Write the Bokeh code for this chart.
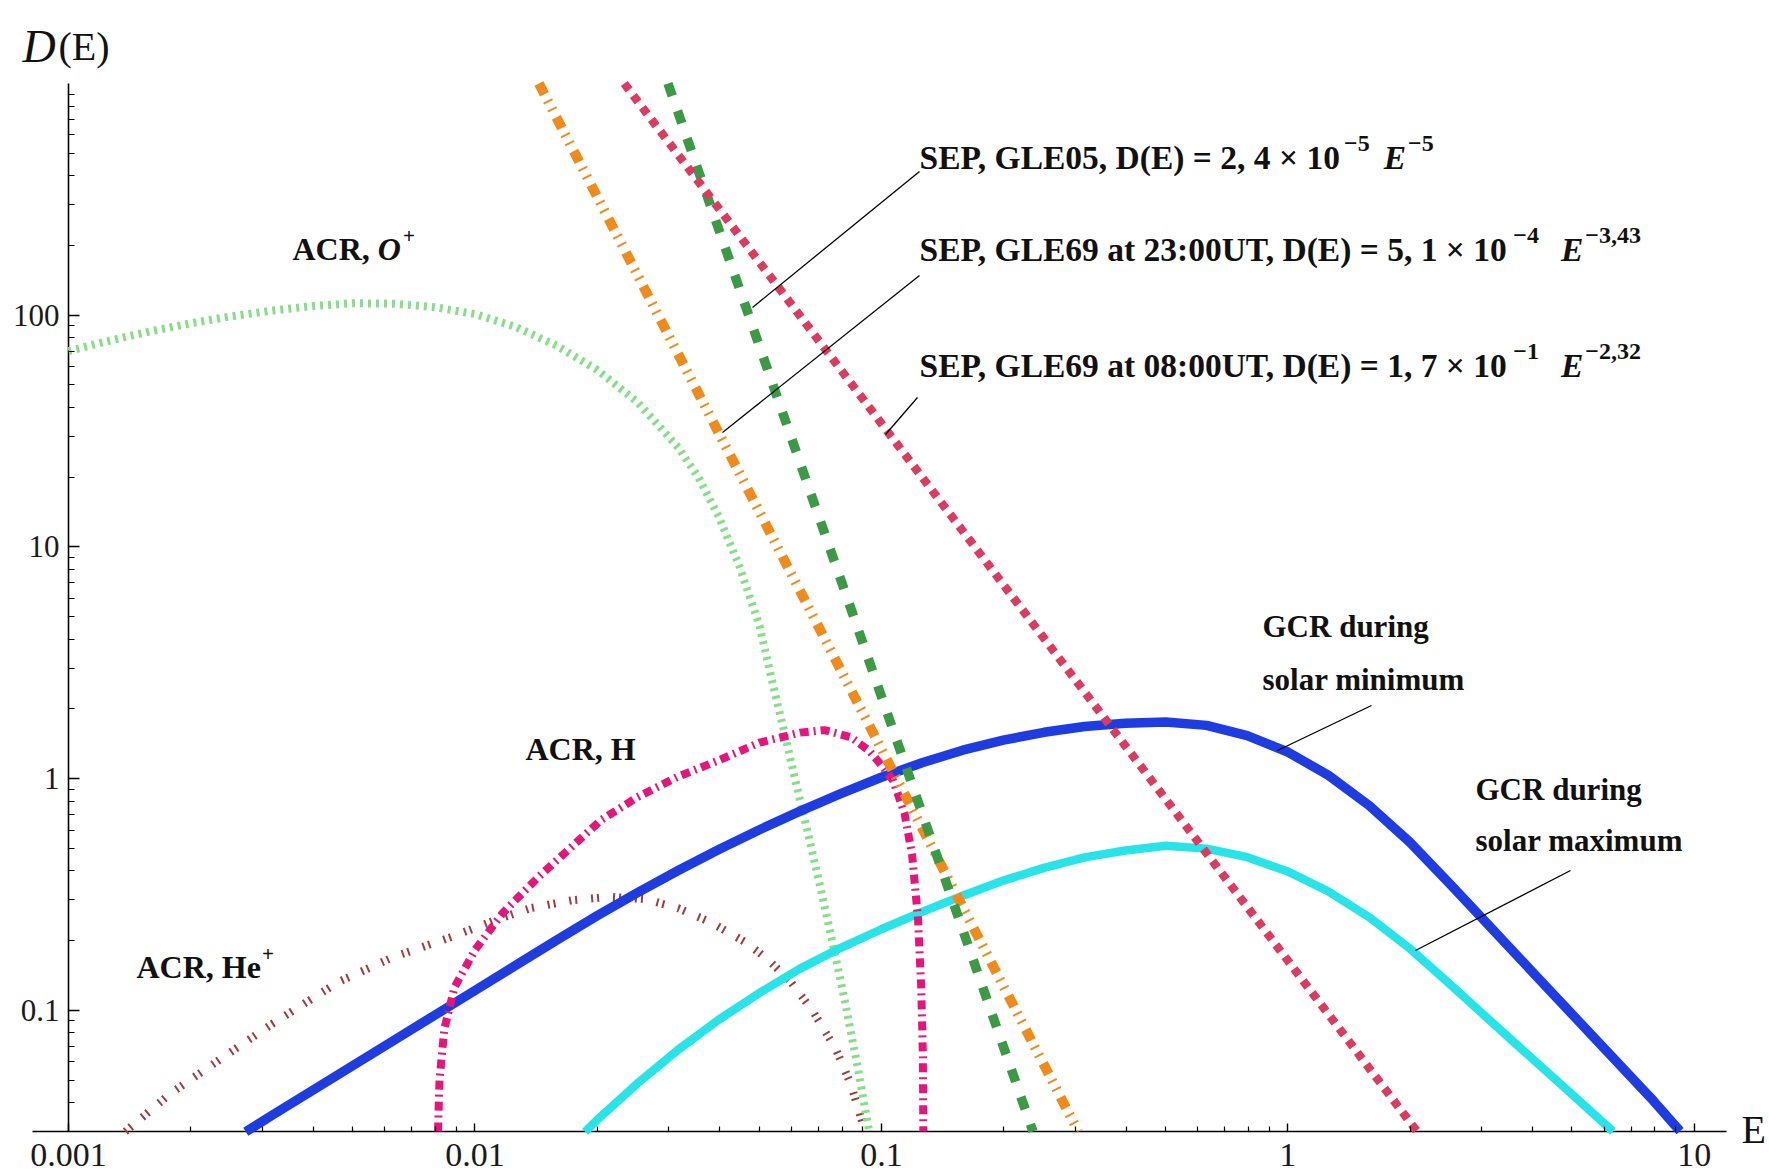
import math
from bokeh.plotting import figure
from bokeh.models import Range1d, FixedTicker, CustomJSTickFormatter, Label
from bokeh.embed import file_html
from bokeh.resources import INLINE

# ---------------- data ----------------
# GCR during solar minimum (solid blue)
gcr_min_E = [0.00273, 0.003162, 0.003981, 0.005012, 0.00631, 0.007943, 0.01, 0.01259, 0.01585,
             0.01995, 0.02512, 0.03162, 0.03981, 0.05012, 0.0631, 0.07943, 0.1, 0.1259, 0.1585,
             0.1995, 0.2512, 0.3162, 0.3981, 0.5012, 0.631, 0.7943, 1.0, 1.259, 1.585, 1.995,
             2.512, 3.162, 3.981, 5.012, 6.31, 7.943, 9.226]
gcr_min_D = [0.0299, 0.03516, 0.04508, 0.05781, 0.07413, 0.09506, 0.1219, 0.1563, 0.2004,
             0.2556, 0.3221, 0.4014, 0.4943, 0.6019, 0.7244, 0.8619, 1.014, 1.172, 1.327,
             1.466, 1.585, 1.679, 1.734, 1.754, 1.698, 1.535, 1.303, 1.033, 0.7656, 0.5321,
             0.3491, 0.2270, 0.1476, 0.0959, 0.0624, 0.0406, 0.0301]

# GCR during solar maximum (solid cyan)
gcr_max_E = [0.01866, 0.01995, 0.02512, 0.03162, 0.03981, 0.05012, 0.0631, 0.07943, 0.1,
             0.1259, 0.1585, 0.1995, 0.2512, 0.3162, 0.3981, 0.5012, 0.631, 0.7943, 1.0,
             1.259, 1.585, 1.995, 2.512, 3.162, 3.981, 5.012, 6.31]
gcr_max_D = [0.02992, 0.03357, 0.04842, 0.06761, 0.0912, 0.1189, 0.1514, 0.1862, 0.2239,
             0.2661, 0.3126, 0.3631, 0.4121, 0.4571, 0.4898, 0.5129, 0.4989, 0.4581, 0.3972,
             0.3258, 0.2523, 0.1849, 0.1291, 0.0895, 0.0622, 0.0433, 0.0300]

# ACR, O+ (light green dotted)
acr_o_E = [0.001, 0.001259, 0.001585, 0.001995, 0.002512, 0.003162, 0.003981, 0.005012,
           0.00631, 0.007943, 0.01, 0.01259, 0.01585, 0.01995, 0.02512, 0.03162, 0.03548,
           0.03981, 0.04467, 0.05012, 0.0537, 0.05754, 0.06166, 0.06607, 0.07079, 0.07586,
           0.08128, 0.0871, 0.09333]
acr_o_D = [69.98, 77.6, 85.1, 92.3, 98.9, 104.7, 109.6, 112.7, 112.2, 108.4, 101.2, 89.1,
           74.1, 58.2, 42.2, 26.9, 19.95, 13.5, 8.32, 4.57, 2.69, 1.62, 0.955, 0.575, 0.339,
           0.195, 0.110, 0.0589, 0.030]

# ACR, H (magenta dash-dot)
acr_h_E = [0.00811, 0.00818, 0.00841, 0.00891, 0.01, 0.0117, 0.0143, 0.0174, 0.0204, 0.0251,
           0.0316, 0.0398, 0.0501, 0.0631, 0.0724, 0.0841, 0.0933, 0.101, 0.107, 0.114, 0.119,
           0.123, 0.1253, 0.1265, 0.1268]
acr_h_D = [0.030, 0.0501, 0.0832, 0.126, 0.182, 0.263, 0.375, 0.513, 0.661, 0.832, 1.02, 1.20,
           1.43, 1.58, 1.62, 1.51, 1.32, 1.12, 0.977, 0.708, 0.468, 0.251, 0.126, 0.0631, 0.030]

# ACR, He+ (dark red double-dotted)
acr_he_E = [0.00138, 0.00178, 0.00245, 0.00316, 0.00463, 0.00631, 0.00879, 0.0112, 0.0137,
            0.0174, 0.0215, 0.0263, 0.0316, 0.038, 0.0463, 0.0525, 0.0598, 0.0676, 0.0773,
            0.0841, 0.0912]
acr_he_D = [0.030, 0.0437, 0.0643, 0.0871, 0.133, 0.170, 0.208, 0.245, 0.276, 0.299, 0.309,
            0.302, 0.276, 0.240, 0.197, 0.166, 0.133, 0.100, 0.0679, 0.0479, 0.030]

# SEP power laws (straight in log-log): end points read at the plot edges
sep_gle05_E = [0.02985, 0.236]
sep_gle05_D = [1000.0, 0.03]
sep_gle69_23_E = [0.01437, 0.305]
sep_gle69_23_D = [1000.0, 0.03]
sep_gle69_08_E = [0.0233, 2.08]
sep_gle69_08_D = [1000.0, 0.03]

x_tick_values = [0.001, 0.01, 0.1, 1, 10]
y_tick_values = [0.1, 1, 10, 100]
E_AXIS_MIN, E_AXIS_MAX = 0.001, 12.0
D_AXIS_MIN, D_AXIS_MAX = 0.03, 1000.0

# ---------------- geometry ----------------
W, H = 1769, 1171
PX_E0, PX_PER_DEC_X = 68.0, 406.45    # pixel column of E = 0.001, pixels per decade
PY_D0, PX_PER_DEC_Y = 1131.0, 231.7   # pixel row of D = 0.03, pixels per decade
FONT = "Liberation Serif"


def dx(px):
    return 10 ** (math.log10(E_AXIS_MIN) + (px - PX_E0) / PX_PER_DEC_X)


def dy(py):
    return 10 ** (math.log10(D_AXIS_MIN) + (PY_D0 - py) / PX_PER_DEC_Y)


p = figure(width=W, height=H, x_axis_type="log", y_axis_type="log",
           x_range=Range1d(dx(0), dx(W)), y_range=Range1d(dy(H), dy(0)),
           output_backend="svg", toolbar_location=None, title=None, min_border=0)
p.outline_line_color = None
p.grid.visible = False
p.background_fill_color = "white"
p.border_fill_color = "white"

x_minor = [k * d for d in (0.001, 0.01, 0.1, 1) for k in range(2, 10)]
y_minor = [k * d for d in (0.01, 0.1, 1, 10, 100) for k in range(2, 10) if k * d >= 0.03]
p.xaxis.ticker = FixedTicker(ticks=x_tick_values, minor_ticks=x_minor)
p.yaxis.ticker = FixedTicker(ticks=y_tick_values, minor_ticks=y_minor)
p.xaxis.formatter = CustomJSTickFormatter(code="return tick.toString();")
p.yaxis.formatter = CustomJSTickFormatter(code="return tick.toString();")
p.xaxis.fixed_location = D_AXIS_MIN
p.yaxis.fixed_location = E_AXIS_MIN

for ax in (p.xaxis[0], p.yaxis[0]):
    ax.axis_line_color = None
    ax.major_tick_out = 0
    ax.minor_tick_out = 0
    ax.major_tick_line_color = "black"
    ax.minor_tick_line_color = "black"
    ax.major_tick_line_width = 1.4
    ax.minor_tick_line_width = 1.2
    ax.major_label_text_font = FONT
    ax.major_label_text_color = "#1a1a1a"
p.xaxis.major_label_text_font_size = "34px"
p.yaxis.major_label_text_font_size = "31px"
p.xaxis.major_tick_in = 8
p.xaxis.minor_tick_in = 5
p.xaxis.major_label_standoff = 12
p.yaxis.major_tick_in = 11
p.yaxis.minor_tick_in = 6
p.yaxis.major_label_standoff = 9

# axis lines (x-axis runs a little left of the y-axis, as in the original)
p.segment(x0=[dx(32), E_AXIS_MIN], y0=[D_AXIS_MIN, D_AXIS_MIN],
          x1=[E_AXIS_MAX, E_AXIS_MIN], y1=[D_AXIS_MIN, D_AXIS_MAX],
          line_color="black", line_width=1.6)

# ---------------- curves ----------------
p.line(acr_he_E, acr_he_D, line_color="#a03c3c", line_width=8, line_dash="2 4 2 14")
p.line(acr_o_E, acr_o_D, line_color="#86de86", line_width=8, line_dash="3 5")
p.line(gcr_max_E, gcr_max_D, line_color="#28e4e8", line_width=8.5)
p.line(gcr_min_E, gcr_min_D, line_color="#1f3ce0", line_width=9.5)
p.line(acr_h_E, acr_h_D, line_color="#e6157c", line_width=8, line_dash="9 5 2 5")
p.line(sep_gle69_23_E, sep_gle69_23_D, line_color="#f08a1c", line_width=10,
       line_dash="12 7 2 7 2 8")
p.line(sep_gle05_E, sep_gle05_D, line_color="#3c9a46", line_width=9.5, line_dash="13 16")
p.line(sep_gle69_08_E, sep_gle69_08_D, line_color="#dc3a5e", line_width=8.5, line_dash="8 7")

# ---------------- leader lines (pixel positions) ----------------
leaders = [((919, 171), (752, 307)), ((919, 275), (722, 432)), ((917, 397), (885, 434)),
           ((1371, 705), (1277, 750)), ((1570, 870), (1415, 950))]
p.segment(x0=[dx(a[0]) for a, b in leaders], y0=[dy(a[1]) for a, b in leaders],
          x1=[dx(b[0]) for a, b in leaders], y1=[dy(b[1]) for a, b in leaders],
          line_color="black", line_width=1.3)

# ---------------- texts ----------------
W_BOLD = {' ': 250, ',': 250, '.': 250, ':': 333, '(': 333, ')': 333, '=': 570,
          '\u00d7': 570, '\u2212': 570, '+': 570, 'A': 722, 'C': 722, 'D': 722, 'E': 667,
          'G': 778, 'H': 778, 'L': 667, 'O': 778, 'P': 611, 'R': 722, 'S': 556, 'T': 667,
          'U': 722, 'a': 500, 'd': 556, 'e': 444, 'g': 500, 'i': 278, 'l': 278, 'm': 833,
          'n': 556, 'o': 500, 'r': 444, 's': 389, 't': 333, 'u': 556, 'x': 500}
W_BOLD_IT = {'E': 667, 'O': 722}


def width(s, size, style):
    table = W_BOLD_IT if "italic" in style else W_BOLD
    return sum(table.get(c, 500) for c in s) * size / 1000.0


def add_text(t, px, py, size, style):
    p.add_layout(Label(x=dx(px), y=dy(py), text=t, text_font=FONT,
                       text_font_size=f"{size}px", text_font_style=style,
                       text_color="#111111", text_align="left",
                       text_baseline="alphabetic"))


def add_run(pieces, px, py):
    x = px
    for t, size, style, raise_px, gap in pieces:
        x += gap
        add_text(t, x, py - raise_px, size, style)
        x += width(t, size, style)


B, BI = "bold", "bold italic"
runs = [
    ([("SEP, GLE05, D(E) = 2, 4 \u00d7 10", 33.5, B, 0, 0), ("\u22125", 24, B, 14, 1),
      ("E", 33.5, BI, 0, 14), ("\u22125", 24, B, 14, 2)], 919, 157),
    ([("SEP, GLE69 at 23:00UT, D(E) = 5, 1 \u00d7 10", 33.5, B, 0, 0), ("\u22124", 24, B, 14, 1),
      ("E", 33.5, BI, 0, 22), ("\u22123,43", 24, B, 14, 2)], 919, 249),
    ([("SEP, GLE69 at 08:00UT, D(E) = 1, 7 \u00d7 10", 33.5, B, 0, 0), ("\u22121", 24, B, 14, 1),
      ("E", 33.5, BI, 0, 22), ("\u22122,32", 24, B, 14, 2)], 919, 365),
    ([("ACR, ", 32, B, 0, 0), ("O", 32, BI, 0, 0), ("+", 21, B, 13, 2)], 292, 248),
    ([("ACR, He", 32, B, 0, 0), ("+", 21, B, 13, 1)], 136, 966),
    ([("ACR, H", 32, B, 0, 0)], 525, 748),
    ([("GCR during", 31, B, 0, 0)], 1262, 626),
    ([("solar minimum", 31, B, 0, 0)], 1262, 679),
    ([("GCR during", 31, B, 0, 0)], 1475, 789),
    ([("solar maximum", 31, B, 0, 0)], 1475, 840),
]
for pieces, px, py in runs:
    add_run(pieces, px, py)

# axis names
add_text("D", 22, 46, 46, "italic")
add_text("(E)", 58, 46, 40, "normal")
add_text("E", 1741, 1129, 40, "normal")

open("out.html", "w").write(file_html(p, INLINE))
